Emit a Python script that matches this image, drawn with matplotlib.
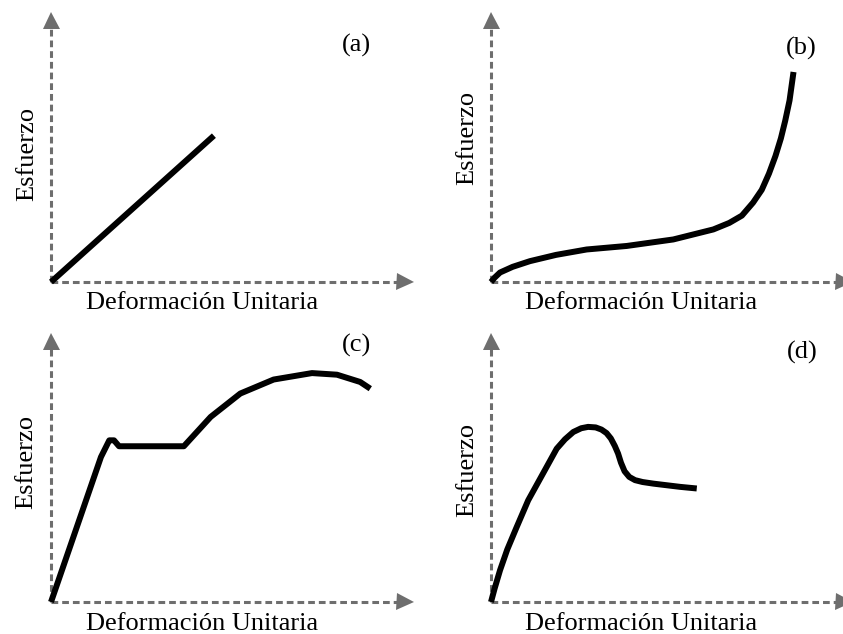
import numpy as np
import matplotlib
matplotlib.use("Agg")
import matplotlib.pyplot as plt
from matplotlib.transforms import ScaledTranslation

plt.rcParams['font.family'] = ['Liberation Serif', 'DejaVu Serif']

# curvas esfuerzo-deformación (en % de la longitud de los ejes)
def_a = [0, 45]
esf_a = [0, 54]

def_b = [0, 1.0, 2.5, 6.0, 10.8, 18.0, 26.5, 37.6, 50.5, 61.6, 66.0, 69.5, 72.6, 75.0, 77.0, 78.8, 80.3, 81.5, 82.7, 83.8]
esf_b = [0, 1.6, 3.5, 5.6, 7.7, 10.0, 12.0, 13.3, 15.7, 19.4, 21.8, 24.5, 29.3, 34.0, 40.0, 46.5, 53.0, 59.5, 67.0, 77.5]

def_c = [0, 13.8, 16.1, 17.4, 18.8, 36.7, 44.1, 52.3, 61.5, 72.1, 79.0, 85.4, 88.2]
esf_c = [0, 53.9, 60.1, 60.1, 57.9, 57.9, 68.8, 77.5, 82.7, 85.1, 84.5, 81.8, 79.3]

def_d = [0, 1.0, 2.5, 4.5, 7.0, 10.3, 14.5, 18.2, 20.5, 22.8, 25.0, 26.9, 29.0, 30.6, 32.0, 33.2, 34.3, 35.2, 36.0, 37.0, 38.3, 39.9, 42.0, 45.0, 52.4, 57.0]
esf_d = [0, 5.0, 11.8, 19.5, 27.5, 37.8, 48.0, 57.0, 60.5, 63.2, 64.6, 65.1, 64.9, 64.1, 62.8, 60.8, 58.0, 55.2, 51.8, 48.6, 46.5, 45.3, 44.6, 44.0, 42.8, 42.2]

etiquetas = ["(a)", "(b)", "(c)", "(d)"]
xlabel = "Deformación Unitaria"
ylabel = "Esfuerzo"

W, H, dpi = 843, 634, 100
fig = plt.figure(figsize=(W / dpi, H / dpi), dpi=dpi)

gris = "#6e6e6e"
fs = 19

# origen y puntas de flecha (pixeles, desde arriba)
paneles = [
    dict(ox=51, oy=282, tx=413, ty=11, x=def_a, y=esf_a, lab=(0.8425, 0.8745), xl=-0.0985, yl=(-0.036, 0.474)),
    dict(ox=491, oy=282, tx=852, ty=11, x=def_b, y=esf_b, lab=(0.859, 0.8635), xl=-0.0985, yl=(-0.035, 0.531)),
    dict(ox=51, oy=602, tx=413, ty=333, x=def_c, y=esf_c, lab=(0.845, 0.955), xl=-0.104, yl=(-0.037, 0.52)),
    dict(ox=491, oy=602, tx=852, ty=333, x=def_d, y=esf_d, lab=(0.862, 0.929), xl=-0.104, yl=(-0.035, 0.491)),
]

head = 17  # tamaño de la punta de flecha (px)

for p, etiq in zip(paneles, etiquetas):
    wpx = p['tx'] - p['ox']
    hpx = p['oy'] - p['ty']
    ax = fig.add_axes([p['ox'] / W, (H - p['oy']) / H, wpx / W, hpx / H])
    ax.set_xlim(0, 100)
    ax.set_ylim(0, 100)
    ax.axis('off')

    # ejes punteados con flechas
    ax.plot([0, 1 - head / 2 / wpx], [0, 0], color=gris, lw=2.2, ls=(0, (2.2, 1.3)),
            transform=ax.transAxes, clip_on=False, dash_capstyle='butt')
    ax.plot([0, 0], [0, 1 - head / 2 / hpx], color=gris, lw=2.2, ls=(0, (2.2, 1.3)),
            transform=ax.transAxes, clip_on=False, dash_capstyle='butt')
    offx = ScaledTranslation(-head / 2 / dpi, 0, fig.dpi_scale_trans)
    offy = ScaledTranslation(0, -head / 2 / dpi, fig.dpi_scale_trans)
    ax.plot([1], [0], marker='>', ms=head * 72 / dpi, mew=0, color=gris,
            transform=ax.transAxes + offx, clip_on=False)
    ax.plot([0], [1], marker='^', ms=head * 72 / dpi, mew=0, color=gris,
            transform=ax.transAxes + offy, clip_on=False)

    # curva
    ax.plot(p['x'], p['y'], color='black', lw=4.3, solid_joinstyle='round',
            solid_capstyle='butt', clip_on=False)

    ax.text(p['lab'][0], p['lab'][1], etiq, transform=ax.transAxes,
            ha='center', va='center', fontsize=fs)
    ax.text(0.416, p['xl'], xlabel, transform=ax.transAxes,
            ha='center', va='baseline', fontsize=fs)
    ax.text(p['yl'][0], p['yl'][1], ylabel, transform=ax.transAxes,
            ha='right', va='center', rotation=90, fontsize=fs)

fig.savefig("out.png", dpi=dpi)
